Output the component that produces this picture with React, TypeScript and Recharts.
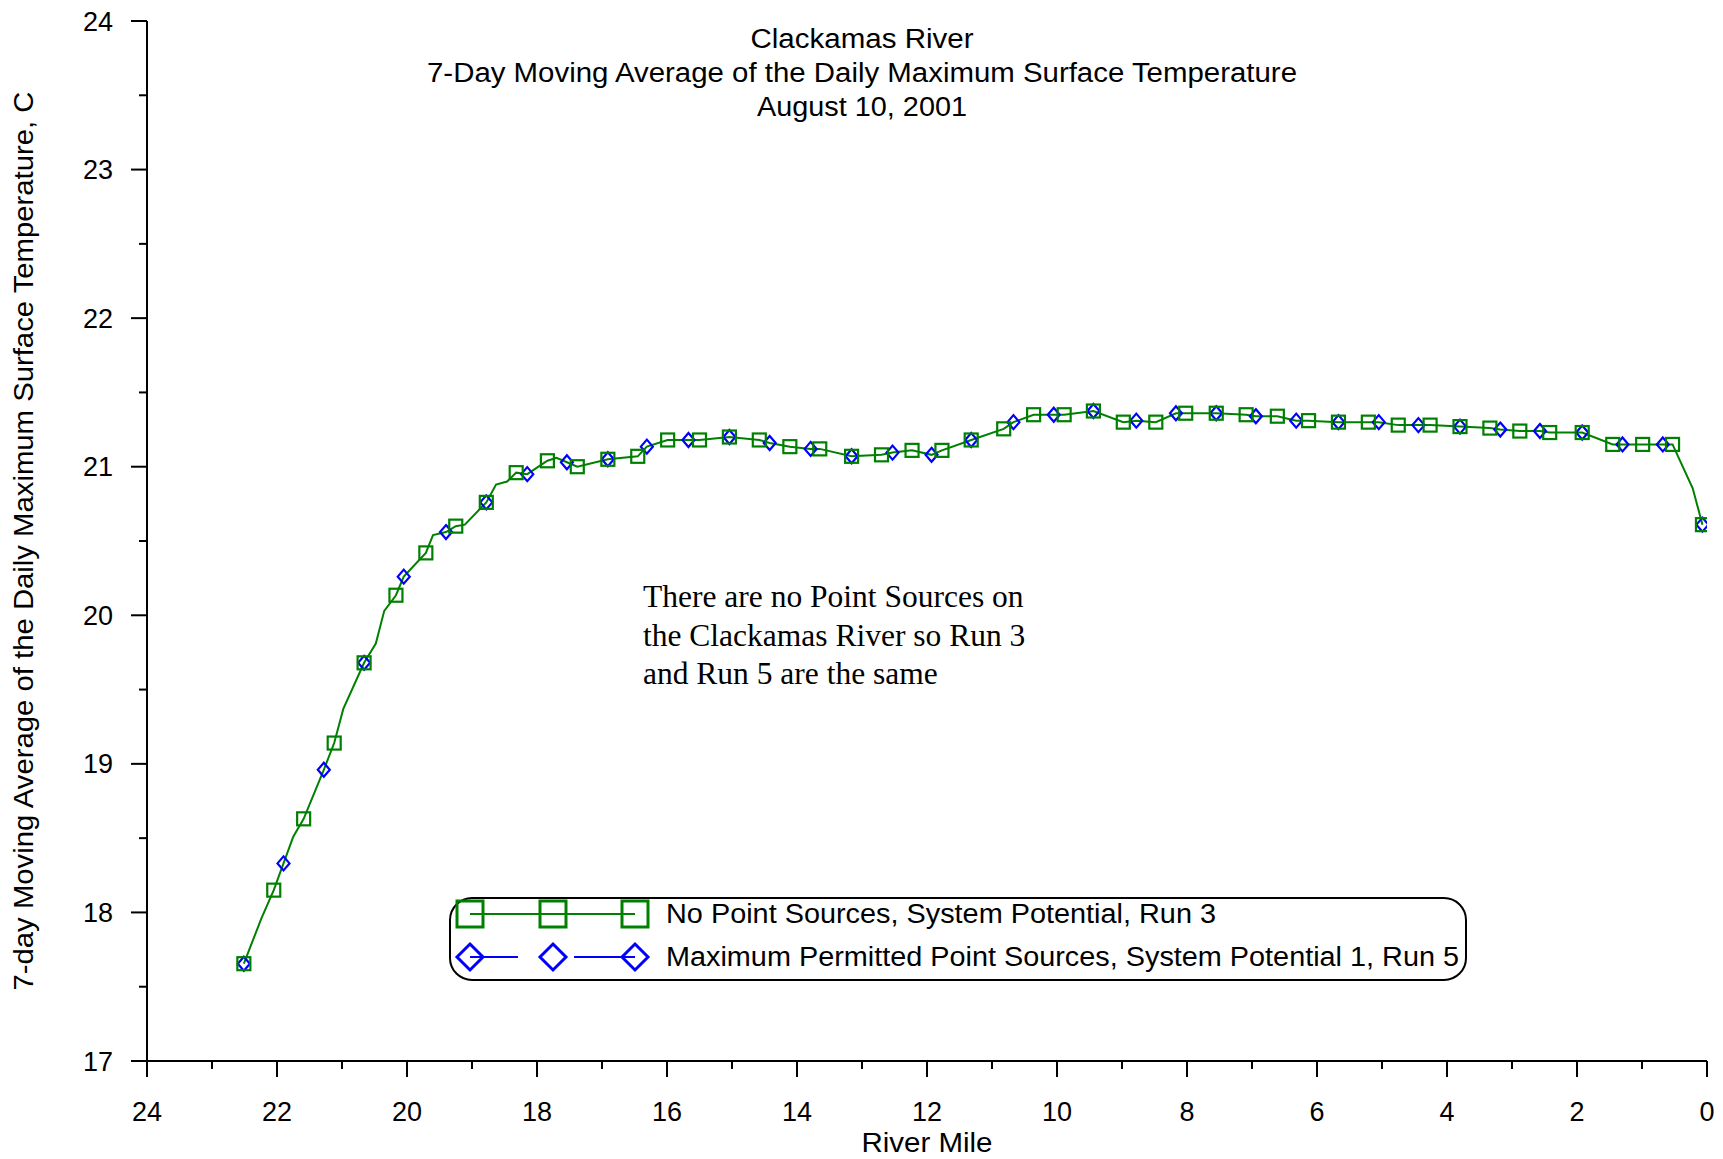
import React from "react";
import { ComposedChart, Line, XAxis, YAxis } from "recharts";

// river mile / 7-day avg max temperature (C)
const LINE_MILES = [
  22.51, 22.24, 22.05, 21.9, 21.75, 21.59, 21.28, 21.12, 20.98, 20.66, 20.48, 20.35, 20.17, 20.05,
  19.71, 19.6, 19.4, 19.25, 19.11, 18.78, 18.63, 18.46, 18.32, 18.15, 17.84, 17.7, 17.54, 17.38,
  16.91, 16.45, 16.31, 15.99, 15.67, 15.5, 15.04, 14.58, 14.42, 14.11, 13.79, 13.65, 13.16, 12.7,
  12.53, 12.23, 11.93, 11.77, 11.32, 10.82, 10.67, 10.36, 10.05, 9.89, 9.44, 8.98, 8.78, 8.48,
  8.17, 8.02, 7.55, 7.09, 6.94, 6.61, 6.32, 6.13, 5.67, 5.21, 5.05, 4.75, 4.44, 4.26, 3.8, 3.34,
  3.18, 2.88, 2.57, 2.42, 1.92, 1.45, 1.3, 0.99, 0.68, 0.53, 0.22, 0.07,
];
const LINE_TEMPS = [
  17.655, 17.96, 18.15, 18.33, 18.51, 18.63, 18.96, 19.14, 19.37, 19.68, 19.81, 20.03, 20.135, 20.26,
  20.42, 20.54, 20.56, 20.6, 20.61, 20.76, 20.88, 20.9, 20.96, 20.95, 21.04, 21.06, 21.03, 21.0,
  21.05, 21.07, 21.135, 21.18, 21.18, 21.18, 21.2, 21.18, 21.16, 21.135, 21.12, 21.12, 21.07, 21.08,
  21.095, 21.11, 21.08, 21.11, 21.18, 21.255, 21.3, 21.35, 21.35, 21.35, 21.375, 21.3, 21.31, 21.3,
  21.36, 21.36, 21.36, 21.35, 21.34, 21.34, 21.31, 21.31, 21.3, 21.3, 21.3, 21.28, 21.28, 21.28, 21.27, 21.26,
  21.25, 21.24, 21.24, 21.23, 21.23, 21.15, 21.15, 21.15, 21.15, 21.15, 20.855, 20.61,
];

// Run 3 markers (green squares)
const SQUARE_MILES = [
  22.51, 22.05, 21.59, 21.12, 20.66, 20.17, 19.71, 19.25, 18.78, 18.32, 17.84, 17.38, 16.91, 16.45,
  15.99, 15.5, 15.04, 14.58, 14.11, 13.65, 13.16, 12.7, 12.23, 11.77, 11.32, 10.82, 10.36, 9.89, 9.44,
  8.98, 8.48, 8.02, 7.55, 7.09, 6.61, 6.13, 5.67, 5.21, 4.75, 4.26, 3.8, 3.34, 2.88, 2.42, 1.92, 1.45,
  0.99, 0.53, 0.07,
];
const SQUARE_TEMPS = [
  17.655, 18.15, 18.63, 19.14, 19.68, 20.135, 20.42, 20.6, 20.76, 20.96, 21.04, 21.0, 21.05, 21.07,
  21.18, 21.18, 21.2, 21.18, 21.135, 21.12, 21.07, 21.08, 21.11, 21.11, 21.18, 21.255, 21.35, 21.35, 21.375,
  21.3, 21.3, 21.36, 21.36, 21.35, 21.34, 21.31, 21.3, 21.3, 21.28, 21.28, 21.27, 21.26, 21.24, 21.23, 21.23, 21.15,
  21.15, 21.15, 20.61,
];

// Run 5 markers (blue diamonds)
const DIAMOND_MILES = [
  22.51, 21.9, 21.28, 20.66, 20.05, 19.4, 18.78, 18.15, 17.54, 16.91, 16.31, 15.67, 15.04, 14.42,
  13.79, 13.16, 12.53, 11.93, 11.32, 10.67, 10.05, 9.44, 8.78, 8.17, 7.55, 6.94, 6.32, 5.67, 5.05,
  4.44, 3.8, 3.18, 2.57, 1.92, 1.3, 0.68, 0.07,
];
const DIAMOND_TEMPS = [
  17.655, 18.33, 18.96, 19.68, 20.26, 20.56, 20.76, 20.95, 21.03, 21.05, 21.135, 21.18, 21.2, 21.16,
  21.12, 21.07, 21.095, 21.08, 21.18, 21.3, 21.35, 21.375, 21.31, 21.36, 21.36, 21.34, 21.31, 21.3, 21.3,
  21.28, 21.27, 21.25, 21.24, 21.23, 21.15, 21.15, 20.61,
];

const X_TICKS = [0, 1, 2, 3, 4, 5, 6, 7, 8, 9, 10, 11, 12, 13, 14, 15, 16, 17, 18, 19, 20, 21, 22, 23, 24];
const Y_TICKS = [17, 17.5, 18, 18.5, 19, 19.5, 20, 20.5, 21, 21.5, 22, 22.5, 23, 23.5, 24];

const TITLE = [
  "Clackamas River",
  "7-Day Moving Average of the Daily Maximum Surface Temperature",
  "August 10, 2001",
];
const NOTE = [
  "There are no Point Sources on",
  "the Clackamas River so Run 3",
  "and Run 5 are the same",
];
const SERIES_NAMES = [
  "No Point Sources, System Potential, Run 3",
  "Maximum Permitted Point Sources, System Potential 1, Run 5",
];

const GREEN = "#008000";
const BLUE = "#0000FF";
const SANS = "'Liberation Sans', Arial, sans-serif";
const SERIF = "'Liberation Serif', 'Times New Roman', serif";

const W = 1723;
const H = 1159;

const toRows = (miles: number[], temps: number[]) => miles.map((m, i) => ({ mile: m, temp: temps[i] }));

const lineData = toRows(LINE_MILES, LINE_TEMPS);
const squareData = toRows(SQUARE_MILES, SQUARE_TEMPS);
const diamondData = toRows(DIAMOND_MILES, DIAMOND_TEMPS);

const XTick = (props: any) => {
  const { x, y, payload } = props;
  const major = payload.value % 2 === 0;
  return (
    <g>
      <line x1={x} x2={x} y1={y} y2={y + (major ? 16 : 8)} stroke="#000" strokeWidth={2} />
      {major && (
        <text x={x} y={y + 60} textAnchor="middle" fontSize={27} fontFamily={SANS} fill="#000">
          {payload.value}
        </text>
      )}
    </g>
  );
};

const YTick = (props: any) => {
  const { x, y, payload } = props;
  const major = Number.isInteger(payload.value);
  return (
    <g>
      <line x1={x} x2={x - (major ? 16 : 8)} y1={y} y2={y} stroke="#000" strokeWidth={2} />
      {major && (
        <text x={x - 34} y={y + 9.5} textAnchor="end" fontSize={27} fontFamily={SANS} fill="#000">
          {payload.value}
        </text>
      )}
    </g>
  );
};

const squareDot = (p: any) => {
  const { cx, cy, index } = p;
  if (cx == null || cy == null) return <g key={`s${index}`} />;
  return (
    <rect key={`s${index}`} x={cx - 6.5} y={cy - 6.5} width={13} height={13} fill="none" stroke={GREEN} strokeWidth={2.2} />
  );
};

const diamondDot = (p: any) => {
  const { cx, cy, index } = p;
  if (cx == null || cy == null) return <g key={`d${index}`} />;
  return (
    <path
      key={`d${index}`}
      d={`M${cx},${cy - 7} L${cx + 6},${cy} L${cx},${cy + 7} L${cx - 6},${cy} Z`}
      fill="none"
      stroke={BLUE}
      strokeWidth={2.2}
    />
  );
};

function Overlay() {
  return (
    <svg width={W} height={H} style={{ position: "absolute", left: 0, top: 0, pointerEvents: "none" }}>
      {/* title */}
      <g fontFamily={SANS} fontSize={27} fill="#000" textAnchor="middle">
        <text x={862} y={48} textLength={223} lengthAdjust="spacingAndGlyphs">{TITLE[0]}</text>
        <text x={862} y={82} textLength={870} lengthAdjust="spacingAndGlyphs">{TITLE[1]}</text>
        <text x={862} y={116} textLength={210} lengthAdjust="spacingAndGlyphs">{TITLE[2]}</text>
      </g>
      {/* annotation */}
      <g fontFamily={SERIF} fontSize={31.5} fill="#000">
        <text x={643} y={607}>{NOTE[0]}</text>
        <text x={643} y={646}>{NOTE[1]}</text>
        <text x={643} y={684}>{NOTE[2]}</text>
      </g>
      {/* axis titles */}
      <text x={927} y={1152} textAnchor="middle" fontFamily={SANS} fontSize={27} textLength={131} lengthAdjust="spacingAndGlyphs">
        River Mile
      </text>
      <text
        transform="translate(33,541) rotate(-90)"
        x={0}
        y={0}
        textAnchor="middle"
        fontFamily={SANS}
        fontSize={27}
        textLength={899}
        lengthAdjust="spacingAndGlyphs"
      >
        7-day Moving Average of the Daily Maximum Surface Temperature, C
      </text>
      {/* legend */}
      <rect x={450} y={898} width={1016} height={82} rx={22} ry={22} fill="#fff" stroke="#000" strokeWidth={2} />
      <line x1={470} x2={635} y1={914} y2={914} stroke={GREEN} strokeWidth={2} />
      {[470, 553, 635].map((cx) => (
        <rect key={cx} x={cx - 13} y={914 - 13} width={26} height={26} fill="none" stroke={GREEN} strokeWidth={3} />
      ))}
      <line x1={470} x2={518} y1={957} y2={957} stroke={BLUE} strokeWidth={2} />
      <line x1={574} x2={635} y1={957} y2={957} stroke={BLUE} strokeWidth={2} />
      {[470, 553, 635].map((cx) => (
        <path
          key={cx}
          d={`M${cx},${957 - 13} L${cx + 13},957 L${cx},${957 + 13} L${cx - 13},957 Z`}
          fill="none"
          stroke={BLUE}
          strokeWidth={3}
        />
      ))}
      <g fontFamily={SANS} fontSize={27} fill="#000">
        <text x={666} y={923} textLength={550} lengthAdjust="spacingAndGlyphs">{SERIES_NAMES[0]}</text>
        <text x={666} y={966} textLength={793} lengthAdjust="spacingAndGlyphs">{SERIES_NAMES[1]}</text>
      </g>
    </svg>
  );
}

export default function App() {
  return (
    <div style={{ position: "absolute", left: 0, top: 0, width: W, height: H, background: "#fff" }}>
      <ComposedChart width={W} height={H} margin={{ top: 21, right: 16, bottom: 0, left: 0 }}>
        <XAxis
          dataKey="mile"
          type="number"
          domain={[0, 24]}
          reversed
          ticks={X_TICKS}
          interval={0}
          height={98}
          tickSize={0}
          tickMargin={0}
          tickLine={false}
          axisLine={{ stroke: "#000", strokeWidth: 2 }}
          tick={<XTick />}
          allowDataOverflow
        />
        <YAxis
          dataKey="temp"
          type="number"
          domain={[17, 24]}
          ticks={Y_TICKS}
          interval={0}
          width={147}
          tickSize={0}
          tickMargin={0}
          tickLine={false}
          axisLine={{ stroke: "#000", strokeWidth: 2 }}
          tick={<YTick />}
          allowDataOverflow
        />
        <Line
          data={diamondData}
          dataKey="temp"
          stroke="none"
          dot={diamondDot}
          activeDot={false}
          isAnimationActive={false}
        />
        <Line
          data={lineData}
          dataKey="temp"
          type="linear"
          stroke={GREEN}
          strokeWidth={2}
          dot={false}
          activeDot={false}
          isAnimationActive={false}
        />
        <Line
          data={squareData}
          dataKey="temp"
          stroke="none"
          dot={squareDot}
          activeDot={false}
          isAnimationActive={false}
        />
      </ComposedChart>
      <Overlay />
    </div>
  );
}
